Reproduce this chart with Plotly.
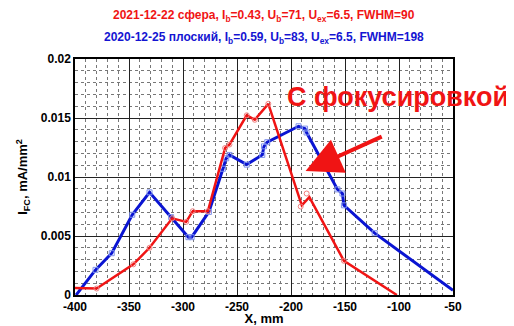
import plotly.graph_objects as go

red_x = [-400, -380, -346, -331, -310, -297, -291, -277, -261, -257, -241, -233.5, -221, -190, -183, -151, -102]
red_y = [0.0006, 0.00055, 0.0026, 0.0040, 0.0065, 0.0062, 0.0071, 0.0071, 0.01246, 0.01275, 0.01523, 0.01485, 0.0162, 0.0076, 0.0083, 0.0029, 0.0]
red_mx = [-380, -346, -331, -310, -297, -291, -277, -261, -257, -241, -233.5, -221, -191, -185.5, -151]
red_my = [0.00055, 0.0026, 0.0040, 0.0065, 0.0062, 0.0071, 0.0071, 0.01246, 0.01275, 0.01523, 0.01485, 0.0162, 0.0075, 0.0086, 0.0029]

blue_x = [-399, -381, -366, -347, -331, -311, -295, -292, -276, -263, -260, -257, -241, -226.6, -225, -222, -193, -187, -185.6, -157, -152.4, -151, -122.5, -50]
blue_y = [0.0, 0.00213, 0.00354, 0.0068, 0.0087, 0.0066, 0.0049, 0.0049, 0.00704, 0.0107, 0.01158, 0.01187, 0.01105, 0.01187, 0.0126, 0.01295, 0.0143, 0.0141, 0.01377, 0.00895, 0.0086, 0.0076, 0.00524, 0.0004]

title1 = "2021-12-22 сфера, I<sub>b</sub>=0.43, U<sub>b</sub>=71, U<sub>ex</sub>=6.5, FWHM=90"
title2 = "2020-12-25 плоский, I<sub>b</sub>=0.59, U<sub>b</sub>=83, U<sub>ex</sub>=6.5, FWHM=198"
x_ticks = [-400, -350, -300, -250, -200, -150, -100, -50]
y_ticks = [0, 0.005, 0.01, 0.015, 0.02]
y_tick_text = ["0", "0.005", "0.01", "0.015", "0.02"]

font_ax = "Liberation Sans, Arial"

fig = go.Figure()
fig.add_trace(go.Scatter(x=blue_x, y=blue_y, mode="lines", line=dict(color="#0a14d2", width=3), showlegend=False, hoverinfo="skip"))
fig.add_trace(go.Scatter(x=blue_x[1:-1], y=blue_y[1:-1], mode="markers",
                         marker=dict(symbol="square-open", size=5, color="#7f92ec", line=dict(width=1)), showlegend=False))
fig.add_trace(go.Scatter(x=red_x, y=red_y, mode="lines", line=dict(color="#f01414", width=2.5), showlegend=False, hoverinfo="skip"))
fig.add_trace(go.Scatter(x=red_mx, y=red_my, mode="markers",
                         marker=dict(symbol="circle-open", size=5, color="#f07f7f", line=dict(width=1)), showlegend=False))

grid_common = dict(showline=True, linecolor="black", linewidth=1.5, mirror=True, zeroline=False, automargin=False,
                   gridcolor="#222222", gridwidth=1, ticks="", tickfont=dict(family=font_ax, size=12, color="black", weight="bold"))
fig.update_xaxes(range=[-400, -50], tickvals=x_ticks, ticktext=[str(v) for v in x_ticks],
                 minor=dict(dtick=10, gridcolor="#777777", griddash="dot", gridwidth=1, showgrid=True),
                 title=dict(text="X, mm", font=dict(family=font_ax, size=13, color="black", weight="bold"), standoff=0),
                 **grid_common)
fig.update_yaxes(range=[0, 0.02], tickvals=y_ticks, ticktext=y_tick_text,
                 minor=dict(dtick=0.001, gridcolor="#777777", griddash="dot", gridwidth=1, showgrid=True),
                 title=dict(text="I<sub>FC</sub>, mA/mm<sup>2</sup>", font=dict(family=font_ax, size=13, color="black", weight="bold"), standoff=10),
                 **grid_common)

fig.add_annotation(x=0.5, y=1.0, xref="paper", yref="paper", yanchor="bottom", yshift=33, showarrow=False,
                   text=title1, font=dict(family=font_ax, size=12, color="#f01414", weight="bold"))
fig.add_annotation(x=0.5, y=1.0, xref="paper", yref="paper", yanchor="bottom", yshift=11, showarrow=False,
                   text=title2, font=dict(family=font_ax, size=12, color="#1414d2", weight="bold"))

fig.add_annotation(x=-186.5, y=0.0105, ax=-114.6, ay=0.01348, xref="x", yref="y", axref="x", ayref="y",
                   showarrow=True, arrowhead=2, arrowsize=1.8, arrowwidth=4, arrowcolor="#f01414", text="")
# page body has an 8px margin, so figure coords = window coords - 8
fig.add_annotation(x=(510 - 75) / 378, y=(287 - 96) / 228, xref="paper", yref="paper", xanchor="right", yanchor="middle",
                   showarrow=False, text="С фокусировкой", borderpad=0,
                   font=dict(family=font_ax, size=27, color="#f01414", weight="bold"))

fig.update_layout(width=506, height=318, margin=dict(l=67, r=61, t=51, b=31),
                  paper_bgcolor="white", plot_bgcolor="white")
fig.write_html("out.html")
